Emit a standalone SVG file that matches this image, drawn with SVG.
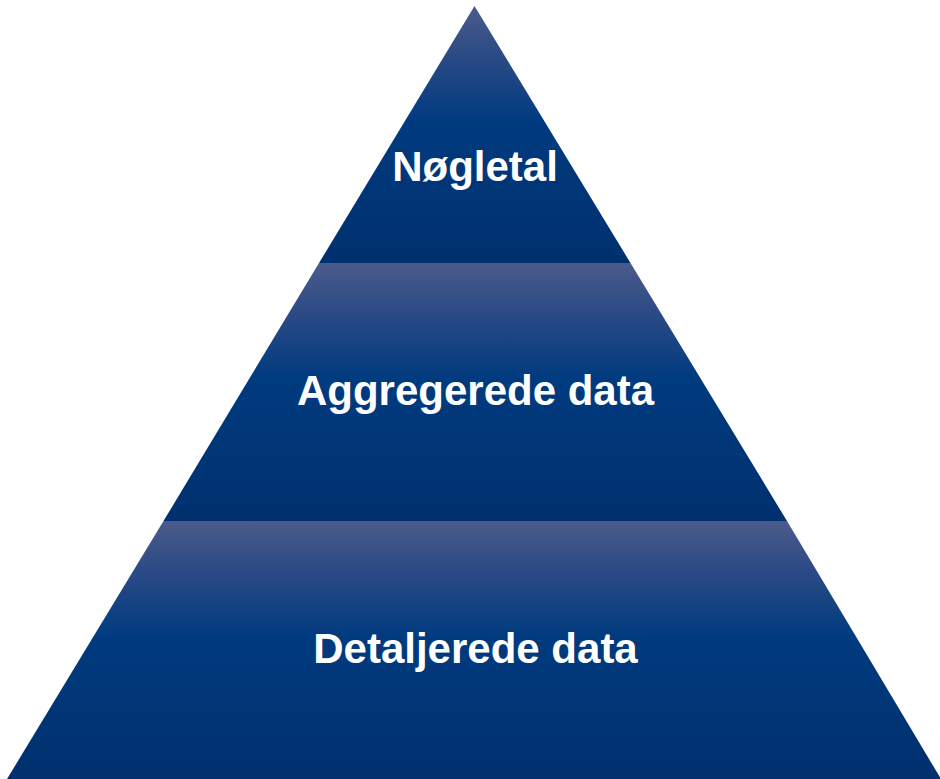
<svg xmlns="http://www.w3.org/2000/svg" width="940" height="779" viewBox="0 0 940 779">
  <defs>
    <linearGradient id="tierGrad" x1="0" y1="0" x2="0" y2="1">
      <stop offset="0" stop-color="#4b5b8b"/>
      <stop offset="0.2" stop-color="#2a4a85"/>
      <stop offset="0.45" stop-color="#003b7f"/>
      <stop offset="1" stop-color="#00306e"/>
    </linearGradient>
  </defs>
  <style>
    .tier { fill: url(#tierGrad); }
    .label { font-family: "Liberation Sans", Arial, sans-serif; font-weight: bold; font-size: 42px; fill: #ffffff; text-anchor: middle; }
  </style>
  <rect width="940" height="779" fill="#ffffff"/>
  <g id="tier-top">
    <polygon class="tier" points="474.5,6 630.5,263 319,263"/>
    <text class="label" x="475" y="181">Nøgletal</text>
  </g>
  <g id="tier-middle">
    <polygon class="tier" points="319,263 630.5,263 787,521 163.5,521"/>
    <text class="label" x="475.5" y="405">Aggregerede data</text>
  </g>
  <g id="tier-bottom">
    <polygon class="tier" points="163.5,521 787,521 941,779 7,779"/>
    <text class="label" x="475.5" y="663">Detaljerede data</text>
  </g>
  <g id="connectors"/>
</svg>
